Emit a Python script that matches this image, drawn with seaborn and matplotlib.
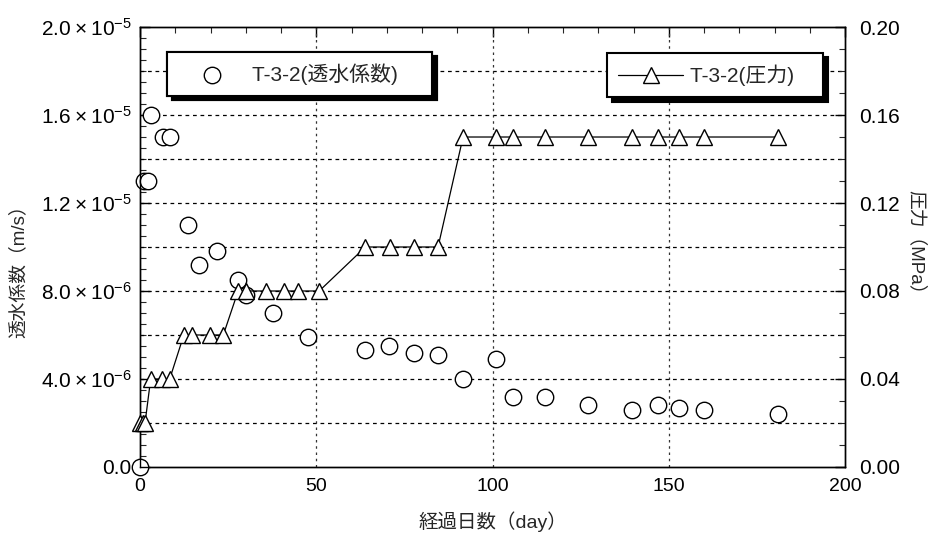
import numpy as np
import pandas as pd
import matplotlib
matplotlib.use("Agg")
import matplotlib.pyplot as plt
import seaborn as sns
from matplotlib.ticker import MultipleLocator, FuncFormatter

# ---- data ----
perm_days = [0, 1.0, 2.2, 3.2, 6.6, 8.4, 13.6, 16.7, 21.7, 27.8, 29.9, 37.6, 47.6,
             63.7, 70.5, 77.6, 84.5, 91.6, 100.8, 105.9, 114.9, 126.9, 139.6,
             146.8, 152.8, 159.9, 181.0]
perm_vals = [0.0, 1.30e-5, 1.30e-5, 1.60e-5, 1.50e-5, 1.50e-5, 1.10e-5, 9.2e-6,
             9.8e-6, 8.5e-6, 7.8e-6, 7.0e-6, 5.9e-6, 5.3e-6, 5.5e-6, 5.2e-6,
             5.1e-6, 4.0e-6, 4.9e-6, 3.2e-6, 3.2e-6, 2.8e-6, 2.6e-6, 2.8e-6,
             2.7e-6, 2.6e-6, 2.4e-6]
pres_days = [0.0, 0.7, 1.4, 3.0, 6.3, 8.4, 12.4, 14.6, 19.7, 23.6, 27.8, 29.9,
             35.6, 40.8, 44.7, 50.8, 63.9, 70.8, 77.6, 84.5, 91.6, 101.0, 105.9,
             114.9, 126.9, 139.6, 146.8, 152.8, 159.9, 181.0]
pres_vals = [0.02, 0.02, 0.02, 0.04, 0.04, 0.04, 0.06, 0.06, 0.06, 0.06, 0.08, 0.08,
             0.08, 0.08, 0.08, 0.08, 0.10, 0.10, 0.10, 0.10, 0.15, 0.15, 0.15,
             0.15, 0.15, 0.15, 0.15, 0.15, 0.15, 0.15]
left_ticks = [0.0, 4e-6, 8e-6, 1.2e-5, 1.6e-5, 2.0e-5]
right_ticks = [0.00, 0.04, 0.08, 0.12, 0.16, 0.20]
x_ticks = [0, 50, 100, 150, 200]
label_perm = "T-3-2(透水係数)"
label_pres = "T-3-2(圧力)"

sns.set_theme(style="white")
plt.rcParams["font.family"] = ["Liberation Sans", "Noto Sans CJK JP", "DejaVu Sans"]
plt.rcParams["mathtext.fontset"] = "custom"
plt.rcParams["mathtext.rm"] = "Liberation Sans"
plt.rcParams["mathtext.it"] = "Liberation Sans"

fig = plt.figure(figsize=(9.34, 5.47), dpi=100)
ax = fig.add_axes([0.150, 0.1463, 0.755, 0.8043])
ax2 = ax.twinx()

perm_df = pd.DataFrame({"day": perm_days, "k": perm_vals})
pres_df = pd.DataFrame({"day": pres_days, "p": pres_vals})

sns.scatterplot(data=perm_df, x="day", y="k", ax=ax, marker="o", s=140,
                facecolor="white", edgecolor="black", linewidth=1.0,
                zorder=5, clip_on=False, label=label_perm, legend=False)
sns.lineplot(data=pres_df, x="day", y="p", ax=ax2, sort=False, color="black",
             linewidth=0.9, marker="^", markersize=12, markerfacecolor="white",
             markeredgecolor="black", markeredgewidth=1.0, clip_on=False,
             label=label_pres, legend=False, zorder=5)

ax.set_xlim(0, 200)
ax.set_ylim(0, 2.0e-5)
ax2.set_ylim(0, 0.20)

def left_fmt(v, pos):
    if abs(v) < 1e-12:
        return "0.0"
    e = int(np.floor(np.log10(abs(v)) + 1e-9))
    m = v / 10 ** e
    return f"{m:.1f}\u2009×\u200910" + r"$^{" + str(e) + "}$"

ax.set_xticks(x_ticks)
ax.set_yticks(left_ticks)
ax.yaxis.set_major_formatter(FuncFormatter(left_fmt))
ax.xaxis.set_minor_locator(MultipleLocator(10))
ax.yaxis.set_minor_locator(MultipleLocator(5e-7))
ax2.set_yticks(right_ticks)
ax2.yaxis.set_major_formatter(FuncFormatter(lambda v, p: f"{v:.2f}"))
ax2.yaxis.set_minor_locator(MultipleLocator(0.01))

# grid
for yv in np.arange(2e-6, 2.0e-5, 2e-6):
    ax.axhline(yv, color="black", lw=0.9, ls=(0, (3, 3)), zorder=1)
for xv in [50, 100, 150]:
    ax.axvline(xv, color="#333333", lw=0.9, ls=(0, (2, 3)), zorder=1)

ax.tick_params(axis="both", which="major", direction="in", length=7, width=1,
               labelsize=15, colors="black", top=True, right=False)
ax.tick_params(axis="both", which="minor", direction="in", length=4, width=0.8,
               top=True, right=False)
ax.tick_params(axis="x", labelsize=14, pad=8)
ax.tick_params(axis="y", pad=6)
ax2.tick_params(axis="y", which="major", direction="in", length=7, width=1,
                labelsize=15, colors="black", pad=10)
ax2.tick_params(axis="y", which="minor", direction="in", length=4, width=0.8)
for a in (ax, ax2):
    for s in a.spines.values():
        s.set_color("black")
        s.set_linewidth(1.0)

ax.set_xlabel("経過日数（day）", fontsize=14, labelpad=12)
ax.set_ylabel("透水係数（m/s）", fontsize=13.5)
ax.yaxis.set_label_coords(-0.16, 0.455)
ax2.set_ylabel("圧力（MPa）", fontsize=13.5, rotation=270, labelpad=18)

shadow = {"ox": 3.5, "oy": -3, "color": "black", "alpha": 1}
leg1 = ax.legend(handles=ax.collections[:1], labels=[label_perm + "    "],
                 loc="upper left", bbox_to_anchor=(0.038, 0.944), borderaxespad=0,
                 fontsize=15, fancybox=False, shadow=shadow, framealpha=1,
                 edgecolor="black", borderpad=0.55, handlelength=3.2,
                 handletextpad=0.32)
leg1.get_frame().set_linewidth(1.5)
leg1.set_zorder(20)
ax.add_artist(leg1)

leg2 = ax2.legend(handles=ax2.lines[:1], labels=[label_pres + "   "],
                  loc="upper left", bbox_to_anchor=(0.662, 0.941), borderaxespad=0,
                  fontsize=15, fancybox=False, shadow=shadow, framealpha=1,
                  edgecolor="black", borderpad=0.55, handlelength=3.1,
                  handletextpad=0.34)
leg2.get_frame().set_linewidth(1.5)
leg2.set_zorder(20)

fig.savefig("out.png", dpi=100)
